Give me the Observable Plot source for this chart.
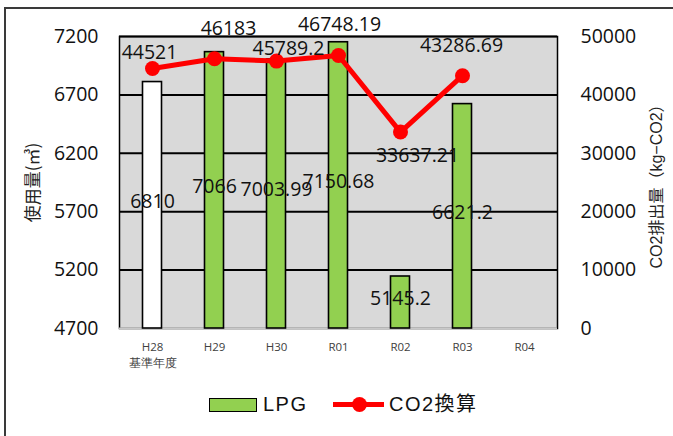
<!DOCTYPE html>
<html><head><meta charset="utf-8">
<script src="https://cdn.jsdelivr.net/npm/d3@7"></script>
<script src="https://cdn.jsdelivr.net/npm/@observablehq/plot@0.6"></script>
<style>
body{margin:0;background:#fff;}
#wrap{position:relative;width:673px;height:436px;overflow:hidden;}
#frame{position:absolute;left:4px;top:7px;width:800px;height:600px;border-left:2px solid #3a3a3a;border-top:2px solid #3a3a3a;}
#chart{position:absolute;left:0;top:0;}
#legend{position:absolute;left:0;top:390px;width:673px;height:30px;font-family:'Liberation Sans','Noto Sans CJK JP',sans-serif;font-size:20px;color:#111;}
#legend .t{position:absolute;top:2px;letter-spacing:1.5px;line-height:24px;}
</style></head><body>
<div id="wrap"><div id="frame"></div><div id="chart"></div><div id="legend"></div></div>
<script>
const years = ["H28","H29","H30","R01","R02","R03","R04"];
const yearSub = ["基準年度","","","","","",""];
const lpg = [6810, 7066, 7003.99, 7150.68, 5145.2, 6621.2, null];
const co2 = [44521, 46183, 45789.2, 46748.19, 33637.21, 43286.69, null];
const leftTicks = [4700, 5200, 5700, 6200, 6700, 7200];
const rightTicks = [0, 10000, 20000, 30000, 40000, 50000];
// label nudges (px) mimicking the reference's label placement
const co2LabelDx = [-3, 14, 12, 1, 17, -1];
const co2LabelDy = [-16, -30, -12, -31, 24, -30];

const yMin = leftTicks[0], yMax = leftTicks[leftTicks.length-1];
const rMax = rightTicks[rightTicks.length-1];
const toLeft = v => yMin + v * (yMax - yMin) / rMax;
const toRight = d => String(Math.round((d - yMin) * rMax / (yMax - yMin)));

const data = years.map((y, i) => ({year: y, lpg: lpg[i], co2: co2[i], i}));
const barData = data.filter(d => d.lpg != null);
const co2Data = data.filter(d => d.co2 != null);

const numFont = 19.5;
const labelMarks = co2Data.map((d, k) => Plot.text([d], {
  x: "year", y: dd => toLeft(dd.co2), text: dd => String(dd.co2),
  dx: co2LabelDx[k], dy: co2LabelDy[k], fontSize: numFont, fill: "#111"
}));

const plot = Plot.plot({
  width: 673, height: 390,
  marginLeft: 119, marginRight: 116, marginTop: 36, marginBottom: 62,
  style: {fontFamily: "'Open Sans', sans-serif", background: "transparent", overflow: "visible"},
  x: {domain: years, padding: 0, label: null, axis: null},
  y: {domain: [yMin, yMax], label: null, axis: null},
  color: {type: "identity"},
  marks: [
    Plot.frame({fill: "#d9d9d9"}),
    Plot.ruleY(leftTicks.slice(1), {stroke: "#000", strokeWidth: 2}),
    Plot.frame({stroke: "#000", strokeWidth: 1.5}),
    Plot.ruleY([yMin], {stroke: "#c8c8c8", strokeWidth: 2}),
    Plot.barY(barData, {
      x: "year", y1: yMin, y2: "lpg",
      fill: d => d.i === 0 ? "#ffffff" : "#92d050",
      stroke: "#000", strokeWidth: 1.6, insetLeft: 21.5, insetRight: 21.5
    }),
    Plot.axisY(leftTicks, {anchor: "left", tickSize: 0, tickPadding: 21, fontSize: numFont, fill: "#111", label: null, tickFormat: d => String(d)}),
    Plot.axisY(leftTicks, {anchor: "right", tickSize: 0, tickPadding: 23, fontSize: numFont, fill: "#111", tickFormat: toRight, label: null}),
    Plot.axisX({
      tickSize: 0, tickPadding: 11, fontSize: 11.5, fill: "#404040", lineHeight: 1.4, label: null,
      tickFormat: d => { const s = yearSub[years.indexOf(d)]; return s ? d + "\n" + s : d; }
    }),
    Plot.text(barData, {x: "year", y: d => (yMin + d.lpg) / 2, dy: -4, text: d => String(d.lpg), fontSize: numFont, fill: "#111"}),
    Plot.line(co2Data, {x: "year", y: d => toLeft(d.co2), stroke: "#ff0000", strokeWidth: 5}),
    Plot.dot(co2Data, {x: "year", y: d => toLeft(d.co2), r: 7.5, fill: "#ff0000"}),
    ...labelMarks,
    Plot.text(["使用量(㎥)"], {frameAnchor: "left", textAnchor: "middle", dx: -86, rotate: -90, fontSize: 17, fill: "#222", fontFamily: "'Noto Sans CJK JP', sans-serif"}),
    Plot.text(["CO2排出量（kg−CO2）"], {frameAnchor: "right", textAnchor: "middle", dx: 99, rotate: -90, fontSize: 16, fill: "#222", fontFamily: "'Liberation Sans','Noto Sans CJK JP', sans-serif"})
  ]
});
document.getElementById("chart").appendChild(plot);

document.getElementById("legend").innerHTML = `
  <div style="position:absolute;left:209px;top:8px;width:48px;height:14px;box-sizing:border-box;background:#92d050;border:1.5px solid #000;"></div>
  <div class="t" style="left:263px;">LPG</div>
  <div style="position:absolute;left:333px;top:12px;width:51px;height:5px;background:#ff0000;"></div>
  <div style="position:absolute;left:351.5px;top:7px;width:15px;height:15px;border-radius:50%;background:#ff0000;"></div>
  <div class="t" style="left:389px;">CO2換算</div>`;
</script>
</body></html>
